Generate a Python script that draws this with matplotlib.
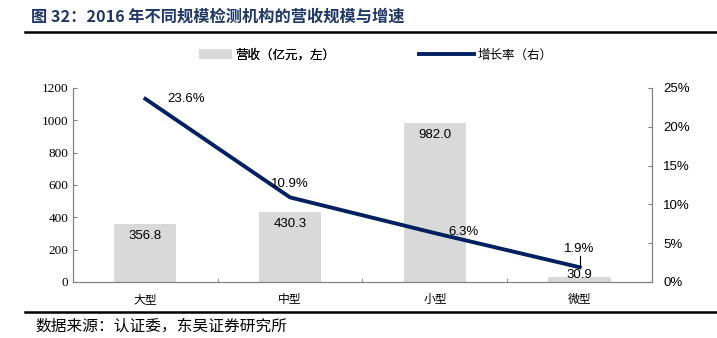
import matplotlib.pyplot as plt
from matplotlib.lines import Line2D
from matplotlib.patches import Patch
import numpy as np

plt.rcParams['font.family'] = ['Noto Sans CJK SC', 'DejaVu Sans']

categories = ['大型', '中型', '小型', '微型']
revenue = [356.8, 430.3, 982.0, 30.9]
growth = [23.6, 10.9, 6.3, 1.9]

navy = '#002060'
bar_gray = '#D9D9D9'
axis_gray = '#808080'

fig = plt.figure(figsize=(7.17, 3.38), dpi=100)

# 标题与分隔线
fig.text(0.043, 0.95, '图 32：2016 年不同规模检测机构的营收规模与增速',
         fontsize=11.7, fontweight='bold', color='#1F3864', va='center')
fig.add_artist(Line2D([0.035, 1.0], [0.905, 0.905], color='black', lw=1.8))
fig.add_artist(Line2D([0.035, 1.0], [0.078, 0.078], color='black', lw=1.8))
fig.text(0.049, 0.035, '数据来源：认证委，东吴证券研究所', fontsize=11.3, va='center')

ax = fig.add_axes([0.1018, 0.1657, 0.8075, 0.574])
x = np.arange(len(categories))
ax.bar(x, revenue, width=0.43, color=bar_gray, zorder=1)
ax.set_xlim(-0.5, 3.5)
ax.set_ylim(0, 1200)
ax.set_yticks(range(0, 1201, 200))
ax.tick_params(axis='y', direction='in', length=3, color=axis_gray, labelsize=9.5)
for lab in ax.get_yticklabels():
    lab.set_family('Liberation Serif')
ax.set_xticks(x)
ax.set_xticklabels(categories, fontsize=8.5)
ax.tick_params(axis='x', length=0, pad=8)
ax.set_xticks(np.arange(-0.5, 4.0, 1.0), minor=True)
ax.tick_params(axis='x', which='minor', direction='in', length=3, color=axis_gray)
ax.spines['top'].set_visible(False)
for s in ['left', 'bottom', 'right']:
    ax.spines[s].set_color(axis_gray)

# 营收数值标签：大柱放在柱内顶部，微型柱压在柱顶
for xi, v in zip(x, revenue):
    if v > 100:
        ax.text(xi, v - 35, f'{v:.1f}', ha='center', va='top', fontsize=9.5,
                family='Liberation Sans', zorder=3)
    else:
        ax.text(xi, v + 12, f'{v:.1f}', ha='center', va='center', fontsize=9.5,
                family='Liberation Sans', zorder=3)

ax2 = ax.twinx()
ax2.plot(x, growth, color=navy, lw=2.8, zorder=4)
ax2.set_ylim(0, 25)
ax2.set_yticks(range(0, 26, 5))
ax2.set_yticklabels([f'{t}%' for t in range(0, 26, 5)])
ax2.tick_params(axis='y', direction='in', length=3, color=axis_gray, labelsize=9.5, pad=8)
for lab in ax2.get_yticklabels():
    lab.set_family('Liberation Sans')
ax2.spines['top'].set_visible(False)
for s in ['left', 'bottom', 'right']:
    ax2.spines[s].set_color(axis_gray)

# 增长率标签
offsets = [(0.15, 0.0, 'left', 'center'), (0.0, 1.0, 'center', 'bottom'),
           (0.2, 0.1, 'center', 'center'), (0.0, 1.6, 'center', 'bottom')]
for xi, g, (dx, dy, ha, va) in zip(x, growth, offsets):
    ax2.text(xi + dx, g + dy, f'{g}%', ha=ha, va=va, fontsize=9.5,
             family='Liberation Sans', zorder=5)
# 微型标签引线
ax2.plot([x[3], x[3]], [growth[3], growth[3] + 1.4], color='black', lw=0.8, zorder=5)

# 图例分两块摆放，柱和线的图例长度不同
leg1 = fig.legend(handles=[Patch(facecolor=bar_gray, edgecolor='none', label='营收（亿元，左）')],
                  loc='center left', bbox_to_anchor=(0.262, 0.837), frameon=False,
                  fontsize=9, handlelength=2.6, handleheight=0.9, handletextpad=0.3)
fig.legend(handles=[Line2D([], [], color=navy, lw=2.8, label='增长率（右）')],
           loc='center left', bbox_to_anchor=(0.568, 0.837), frameon=False,
           fontsize=9, handlelength=4.4, handletextpad=0.3)
fig.add_artist(leg1)

fig.savefig('out.png', dpi=100)
